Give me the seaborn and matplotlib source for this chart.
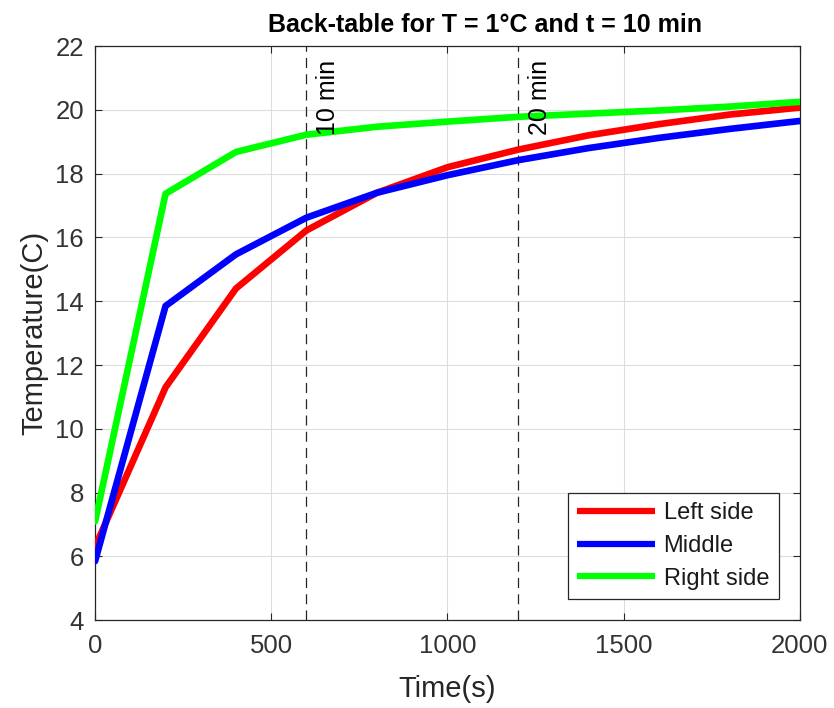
import numpy as np
import pandas as pd
import matplotlib
matplotlib.use("Agg")
import matplotlib.pyplot as plt
import seaborn as sns

# Sampled times (s) and temperatures (C) at three positions
time_s = [0, 200, 400, 600, 800, 1000, 1200, 1400, 1600, 1800, 2000]
left_side = [6.3, 11.3, 14.4, 16.22, 17.4, 18.2, 18.75, 19.2, 19.55, 19.85, 20.07]
middle = [5.85, 13.85, 15.47, 16.62, 17.4, 17.95, 18.42, 18.8, 19.12, 19.4, 19.65]
right_side = [7.1, 17.37, 18.68, 19.22, 19.47, 19.63, 19.78, 19.88, 19.98, 20.1, 20.25]
series_names = ["Left side", "Middle", "Right side"]
marker_times = [600, 1200]
marker_labels = ["10 min", "20 min"]

df = pd.DataFrame({
    "Time(s)": time_s * 3,
    "Temperature(C)": left_side + middle + right_side,
    "Position": np.repeat(series_names, len(time_s)),
})

sns.set_theme(style="white")
plt.rcParams["font.family"] = ["Liberation Sans", "DejaVu Sans"]

fig = plt.figure(figsize=(8.34, 7.08), dpi=100)
ax = fig.add_axes([0.114, 0.124, 0.845, 0.811])

palette = {"Left side": "#ff0000", "Middle": "#0000ff", "Right side": "#00ff00"}
sns.lineplot(data=df, x="Time(s)", y="Temperature(C)", hue="Position",
             palette=palette, linewidth=4.8, ax=ax, sort=False, zorder=3)

for t, lab in zip(marker_times, marker_labels):
    ax.axvline(t, color="#262626", linestyle=(0, (8, 5)), linewidth=0.9, zorder=2)
    ax.text(t + 28, 19.2, lab, rotation=90, ha="left", va="bottom",
            fontsize=18, color="black", zorder=4)

ax.set_xlim(0, 2000)
ax.set_ylim(4, 22)
ax.set_xticks([0, 500, 1000, 1500, 2000])
ax.set_yticks(np.arange(4, 23, 2))
ax.grid(True, color="#dcdcdc", linewidth=0.8)
ax.set_axisbelow(True)
ax.tick_params(direction="in", length=5, width=0.8, labelsize=18.5,
               colors="#262626", bottom=True, left=True, top=True, right=True,
               labeltop=False, labelright=False)
ax.tick_params(axis="x", pad=10, labelcolor="#333333")
ax.tick_params(axis="y", pad=8, labelcolor="#333333")
for sp in ax.spines.values():
    sp.set_color("#262626")
    sp.set_linewidth(0.9)

ax.set_xlabel("Time(s)", fontsize=21, color="#262626", labelpad=12)
ax.set_ylabel("Temperature(C)", fontsize=21, color="#262626", labelpad=5)
ax.set_title("Back-table for T = 1°C and t = 10 min", fontsize=18,
             fontweight="bold", color="black", pad=10, x=0.553)

leg = ax.legend(loc="lower right", fontsize=17, frameon=True, fancybox=False,
                edgecolor="#262626", framealpha=1, handlelength=3.3,
                borderaxespad=0.9, labelspacing=0.45, handletextpad=0.35,
                borderpad=0.4, title=None)
leg.get_frame().set_linewidth(0.9)
for h in leg.get_lines():
    h.set_solid_capstyle("butt")
    h.set_linewidth(4.5)
for txt in leg.get_texts():
    txt.set_color("#1a1a1a")

fig.savefig("out.png", dpi=100)
